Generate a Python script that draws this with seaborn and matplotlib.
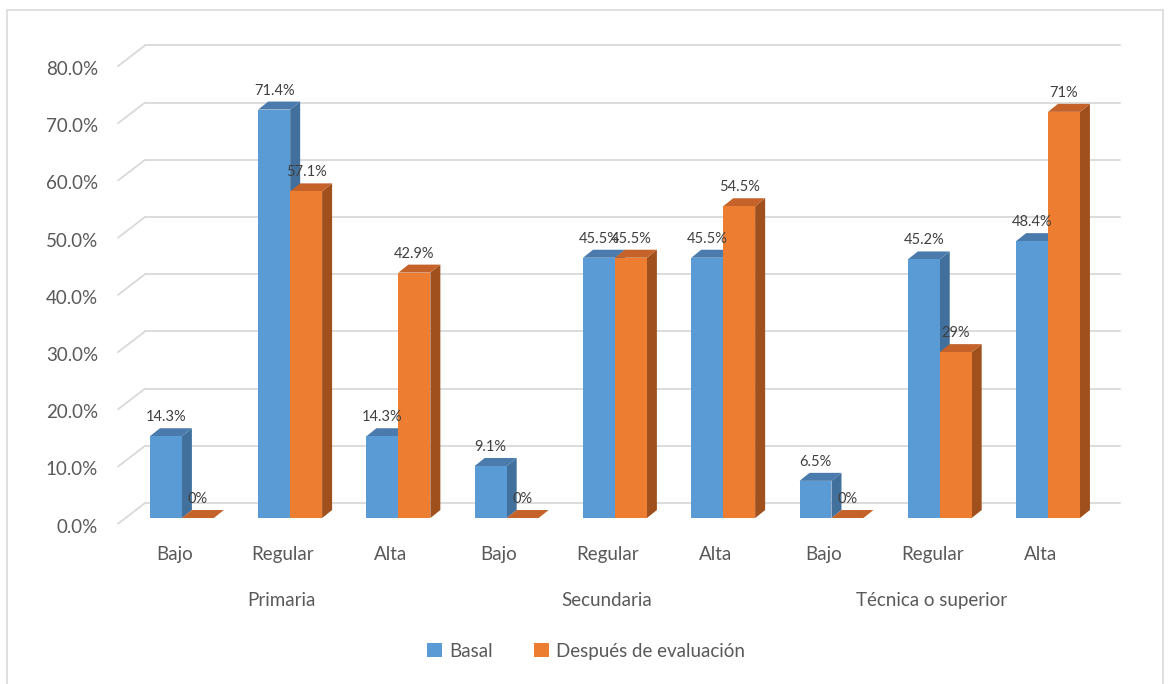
import numpy as np
import pandas as pd
import matplotlib.pyplot as plt
import seaborn as sns
from matplotlib.patches import Polygon, Rectangle, Patch

# Data
levels = ["Primaria", "Secundaria", "Técnica o superior"]
ratings = ["Bajo", "Regular", "Alta"]
series = ["Basal", "Después de evaluación"]
basal = [14.3, 71.4, 14.3, 9.1, 45.5, 45.5, 6.5, 45.2, 48.4]
despues = [0.0, 57.1, 42.9, 0.0, 45.5, 54.5, 0.0, 29.0, 71.0]
basal_labels = ["14.3%", "71.4%", "14.3%", "9.1%", "45.5%", "45.5%", "6.5%", "45.2%", "48.4%"]
despues_labels = ["0%", "57.1%", "42.9%", "0%", "45.5%", "54.5%", "0%", "29%", "71%"]
y_ticks = [0, 10, 20, 30, 40, 50, 60, 70, 80]

colors = ["#5B9BD5", "#ED7D31"]
top_colors = ["#4A7BAC", "#C4622A"]
side_colors = ["#41709C", "#A0501C"]
text_gray = "#595959"
label_gray = "#404040"
grid_gray = "#D9D9D9"

sns.set_style("white")
plt.rcParams["font.family"] = ["Lato", "DejaVu Sans"]

slots = [f"{lv}|{r}" for lv in levels for r in ratings]
df = pd.DataFrame({
    "slot": slots * 2,
    "valor": basal + despues,
    "serie": [series[0]] * len(slots) + [series[1]] * len(slots),
})

fig = plt.figure(figsize=(11.72, 6.84), dpi=100)
ax = fig.add_axes([0.1007, 0.2301, 0.848, 0.7151])

sns.barplot(data=df, x="slot", y="valor", hue="serie", order=slots,
            hue_order=series, palette=colors, width=0.59, saturation=1,
            legend=False, ax=ax)
ax.set_xlim(-0.59, 8.59)
ax.set_ylim(-1.5, 84)
ax.set_axis_off()

# pixel -> data conversion for the fake 3D depth
inv = ax.transData.inverted()
o = inv.transform((0, 0))
def px(dx, dy):
    p = inv.transform((dx, dy)) - o
    return p[0], p[1]

bdx, bdy = px(10, 8)      # bar depth
gdx, gdy = px(27, 15)     # back wall offset
xr_back = 8.59 + px(8, 0)[0]
xl = -0.59

# gridlines (back wall + slanted floor edge)
for v in y_ticks:
    ax.plot([xl, xl + gdx], [v - 1.0, v + gdy], color=grid_gray, lw=1.3,
            clip_on=False, zorder=1)
    ax.plot([xl + gdx, xr_back], [v + gdy, v + gdy], color=grid_gray, lw=1.3,
            clip_on=False, zorder=1)
    ax.text(xl - px(20, 0)[0], v - 1.6, f"{v:.1f}%", ha="right", va="center",
            fontsize=13.5, color=text_gray)

# 3D faces and value labels
n = len(slots)
labels_all = basal_labels + despues_labels
for i, p in enumerate(ax.patches[:2 * n]):
    s = i // n
    x0, w, h = p.get_x(), p.get_width(), p.get_height()
    x1 = x0 + w
    p.set_zorder(4)
    p.set_edgecolor("none")
    top = Polygon([(x0, h), (x0 + bdx, h + bdy), (x1 + bdx, h + bdy), (x1, h)],
                  closed=True, facecolor=top_colors[s], edgecolor="none", zorder=2)
    side = Polygon([(x1, 0), (x1, h), (x1 + bdx, h + bdy), (x1 + bdx, bdy)],
                   closed=True, facecolor=side_colors[s], edgecolor="none", zorder=2)
    ax.add_patch(side)
    ax.add_patch(top)
    ax.text(x0 + w / 2, h + bdy + px(0, 4)[1], labels_all[i], ha="center",
            va="bottom", fontsize=10.5, color=label_gray, zorder=6)

# category and group labels
for i, s in enumerate(slots):
    ax.text(i - 0.07, -0.058, s.split("|")[1], transform=ax.get_xaxis_transform(),
            ha="center", va="center", fontsize=13.5, color=text_gray)
for j, lv in enumerate(levels):
    ax.text(3 * j + 1 - 0.08, -0.152, lv, transform=ax.get_xaxis_transform(),
            ha="center", va="center", fontsize=13.5, color=text_gray)

handles = [Patch(facecolor=c, edgecolor="none") for c in colors]
fig.legend(handles, series, loc="center", bbox_to_anchor=(0.5, 0.048), ncol=2,
           frameon=False, fontsize=13.5, labelcolor=text_gray, handlelength=0.8,
           handleheight=0.8, handletextpad=0.4, columnspacing=2.2)

fig.patches.append(Rectangle((7 / 1172, -0.02), 1156 / 1172, 1.0 - 10 / 684 + 0.02,
                             transform=fig.transFigure, fill=False,
                             edgecolor=grid_gray, lw=1.2))

fig.savefig("out.png", dpi=100)
